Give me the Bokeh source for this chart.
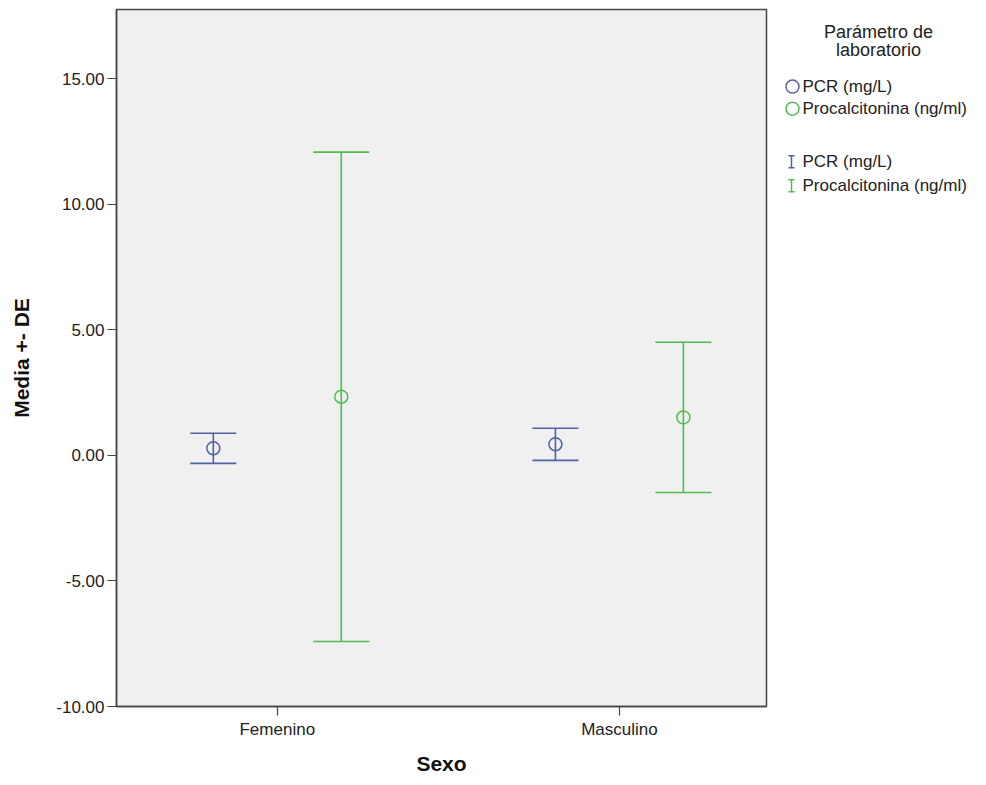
from bokeh.plotting import figure
from bokeh.models import (ColumnDataSource, Range1d, FixedTicker, NumeralTickFormatter,
                          Whisker, TeeHead)
from bokeh.transform import dodge
from bokeh.layouts import row
from bokeh.embed import file_html
from bokeh.resources import INLINE
from bokeh.core.properties import value

# ---------------- data ----------------
sexo = ["Femenino", "Masculino"]
sexo_pos = [1, 2]
pcr_mean = [0.28, 0.44]
pcr_sd = [0.60, 0.64]
pct_mean = [2.33, 1.51]
pct_sd = [9.74, 2.99]
y_ticks = [-10, -5, 0, 5, 10, 15]
series_names = ["PCR (mg/L)", "Procalcitonina (ng/ml)"]
legend_title = ["Parámetro de", "laboratorio"]

BLUE = "#5061a8"
GREEN = "#50bc50"
FONT = "Liberation Sans"


def make_source(mean, sd):
    return ColumnDataSource(dict(
        pos=sexo_pos, mean=mean,
        upper=[m + s for m, s in zip(mean, sd)],
        lower=[m - s for m, s in zip(mean, sd)],
    ))


src_pcr = make_source(pcr_mean, pcr_sd)
src_pct = make_source(pct_mean, pct_sd)

p = figure(width=769, height=777, output_backend="svg", toolbar_location=None,
           x_range=Range1d(0.53, 2.43), y_range=Range1d(-10, 17.75),
           min_border_left=116, min_border_right=3, min_border_top=9,
           min_border_bottom=60)
p.background_fill_color = "#f0f0f0"
p.border_fill_color = "white"
p.outline_line_color = "#444444"
p.outline_line_width = 1.5
p.xgrid.visible = False
p.ygrid.visible = False

OFF = 0.187
for src, col, off, cap in [(src_pcr, BLUE, -OFF, 46), (src_pct, GREEN, OFF, 56)]:
    w = Whisker(source=src, base=dodge("pos", off), upper="upper", lower="lower",
                dimension="height", line_color=col, line_width=1.6,
                upper_head=TeeHead(size=cap, line_color=col, line_width=1.6),
                lower_head=TeeHead(size=cap, line_color=col, line_width=1.6))
    p.add_layout(w)
    p.scatter(x=dodge("pos", off), y="mean", source=src, marker="circle", size=13,
              fill_color=None, line_color=col, line_width=1.5)

# axes
p.yaxis.ticker = FixedTicker(ticks=y_ticks)
p.yaxis.formatter = NumeralTickFormatter(format="0.00")
p.xaxis.ticker = FixedTicker(ticks=sexo_pos)
p.xaxis.major_label_overrides = {pos: name for pos, name in zip(sexo_pos, sexo)}
for ax in (p.xaxis[0], p.yaxis[0]):
    ax.axis_line_color = "#444444"
    ax.axis_line_width = 1.5
    ax.major_tick_line_color = "#444444"
    ax.major_tick_line_width = 1.2
    ax.major_tick_out = 9
    ax.major_tick_in = 0
    ax.minor_tick_line_color = None
    ax.major_label_text_font = FONT
    ax.major_label_text_font_size = "17px"
    ax.major_label_text_color = "#222222"
    ax.axis_label_text_font = FONT
    ax.axis_label_text_font_style = "bold"
    ax.axis_label_text_font_size = "21px"
    ax.axis_label_text_color = "#111111"
p.xaxis.axis_label = "Sexo"
p.yaxis.axis_label = "Media +- DE"
p.xaxis.major_label_standoff = 4
p.xaxis.axis_label_standoff = 10
p.yaxis.major_label_standoff = 3
p.yaxis.axis_label_standoff = 20

# ---------------- legend panel ----------------
# frame of this panel is aligned with the main frame (top 9 .. bottom 705 px)
lg = figure(width=208, height=777, output_backend="svg", toolbar_location=None,
            x_range=Range1d(0, 208), y_range=Range1d(705, 9),
            min_border=0, min_border_left=0, min_border_right=0,
            min_border_top=0, min_border_bottom=0)
lg.axis.visible = False
lg.grid.visible = False
lg.outline_line_color = None
lg.background_fill_color = "white"
lg.border_fill_color = "white"

lg.text(x=[109, 109], y=[31, 49], text=legend_title, text_align="center",
        text_baseline="middle", text_font=value(FONT), text_font_size="18px",
        text_color="#222222")
lg.scatter(x=[23, 23], y=[86, 108], marker="circle", size=13, fill_color=None,
           line_color=[BLUE, GREEN], line_width=1.5)
lg.text(x=[33, 33], y=[86, 108], text=series_names, text_baseline="middle",
        text_font=value(FONT), text_font_size="17px", text_color="#222222")
# I-bar symbols
iy = [161, 185]
icol = [BLUE, GREEN]
lg.segment(x0=[22, 22], y0=[y - 6 for y in iy], x1=[22, 22], y1=[y + 6 for y in iy],
           line_color=icol, line_width=1.5)
lg.segment(x0=[19, 19], y0=[y - 6 for y in iy], x1=[25, 25], y1=[y - 6 for y in iy],
           line_color=icol, line_width=1.5)
lg.segment(x0=[19, 19], y0=[y + 6 for y in iy], x1=[25, 25], y1=[y + 6 for y in iy],
           line_color=icol, line_width=1.5)
lg.text(x=[33, 33], y=iy, text=series_names, text_baseline="middle",
        text_font=value(FONT), text_font_size="17px", text_color="#222222")

layout = row(p, lg)
open("out.html", "w").write(file_html(layout, INLINE))
